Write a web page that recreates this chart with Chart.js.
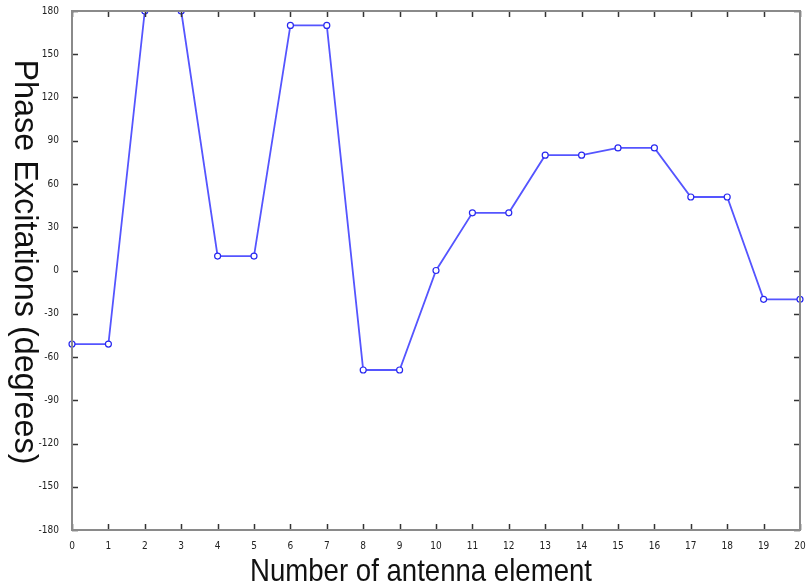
<!DOCTYPE html>
<html>
<head>
<meta charset="utf-8">
<script src="https://cdn.jsdelivr.net/npm/chart.js@4"></script>
<style>
  html, body { margin: 0; padding: 0; background: #fff; }
  #wrap { width: 811px; height: 588px; }
</style>
</head>
<body>
<div id="wrap"><canvas id="chart" width="811" height="588"></canvas></div>
<script>
const elements = ['0','1','2','3','4','5','6','7','8','9','10','11','12','13','14','15','16','17','18','19','20'];
const phase = [-51, -51, 180, 180, 10, 10, 170, 170, -69, -69, 0, 40, 40, 80, 80, 85, 85, 51, 51, -20, -20];
const yTicks = [-180, -150, -120, -90, -60, -30, 0, 30, 60, 90, 120, 150, 180];
const xTitle = 'Number of antenna element';
const yTitle = 'Phase Excitations (degrees)';

// box + inward ticks on all four sides, matlab style
const boxPlugin = {
  id: 'box',
  afterDatasetsDraw(chart) {
    const { ctx, chartArea: a, scales } = chart;
    ctx.save();
    ctx.strokeStyle = '#333';
    ctx.lineWidth = 1.5;
    const len = 6;
    scales.x.ticks.forEach((t, i) => {
      const px = Math.round(scales.x.getPixelForTick(i)) + 0.5;
      ctx.beginPath();
      ctx.moveTo(px, a.bottom); ctx.lineTo(px, a.bottom - len);
      ctx.moveTo(px, a.top); ctx.lineTo(px, a.top + len);
      ctx.stroke();
    });
    yTicks.forEach(v => {
      const py = Math.round(scales.y.getPixelForValue(v)) + 0.5;
      ctx.beginPath();
      ctx.moveTo(a.left, py); ctx.lineTo(a.left + len, py);
      ctx.moveTo(a.right, py); ctx.lineTo(a.right - len, py);
      ctx.stroke();
    });
    ctx.strokeStyle = '#8a8a8a';
    ctx.lineWidth = 2;
    ctx.strokeRect(a.left, a.top, a.right - a.left, a.bottom - a.top);
    ctx.restore();
  },
  afterDraw(chart) {
    const { ctx } = chart;
    ctx.save();
    ctx.fillStyle = '#111';
    ctx.textAlign = 'center';
    ctx.textBaseline = 'middle';
    // x title, slightly condensed
    ctx.font = '32px "Liberation Sans", Arial, sans-serif';
    let w = ctx.measureText(xTitle).width;
    ctx.translate(421, 572);
    ctx.scale(342 / w, 1);
    ctx.fillText(xTitle, 0, 0);
    ctx.restore();
    ctx.save();
    ctx.fillStyle = '#111';
    ctx.textAlign = 'center';
    ctx.textBaseline = 'middle';
    ctx.font = '33px "Liberation Sans", Arial, sans-serif';
    w = ctx.measureText(yTitle).width;
    ctx.translate(24, 262);
    ctx.rotate(Math.PI / 2);
    ctx.scale(405 / w, 1);
    ctx.fillText(yTitle, 0, 0);
    ctx.restore();
  }
};

new Chart(document.getElementById('chart'), {
  type: 'line',
  data: {
    labels: elements,
    datasets: [{
      data: phase,
      borderColor: 'rgb(85, 85, 255)',
      borderWidth: 1.8,
      pointRadius: 3,
      pointBorderWidth: 1.2,
      pointBorderColor: 'rgb(40, 40, 240)',
      pointBackgroundColor: '#fff',
      tension: 0
    }]
  },
  options: {
    responsive: false,
    animation: false,
    devicePixelRatio: 1,
    layout: { padding: { top: 3, right: 11, left: 0, bottom: 0 } },
    plugins: { legend: { display: false }, tooltip: { enabled: false } },
    scales: {
      x: {
        type: 'category',
        offset: false,
        grid: { display: false },
        border: { display: false },
        ticks: {
          padding: 2,
          maxRotation: 0,
          autoSkip: false,
          color: '#222',
          font: { family: '"DejaVu Sans Condensed", sans-serif', size: 10 }
        },
        afterFit(s) { s.height = 58; }
      },
      y: {
        min: -180,
        max: 180,
        grid: { display: false },
        border: { display: false },
        afterBuildTicks(s) { s.ticks = yTicks.map(v => ({ value: v })); },
        ticks: {
          padding: 5,
          color: '#222',
          font: { family: '"DejaVu Sans Condensed", sans-serif', size: 10 }
        },
        afterFit(s) { s.width = 72; }
      }
    }
  },
  plugins: [boxPlugin]
});
</script>
</body>
</html>
